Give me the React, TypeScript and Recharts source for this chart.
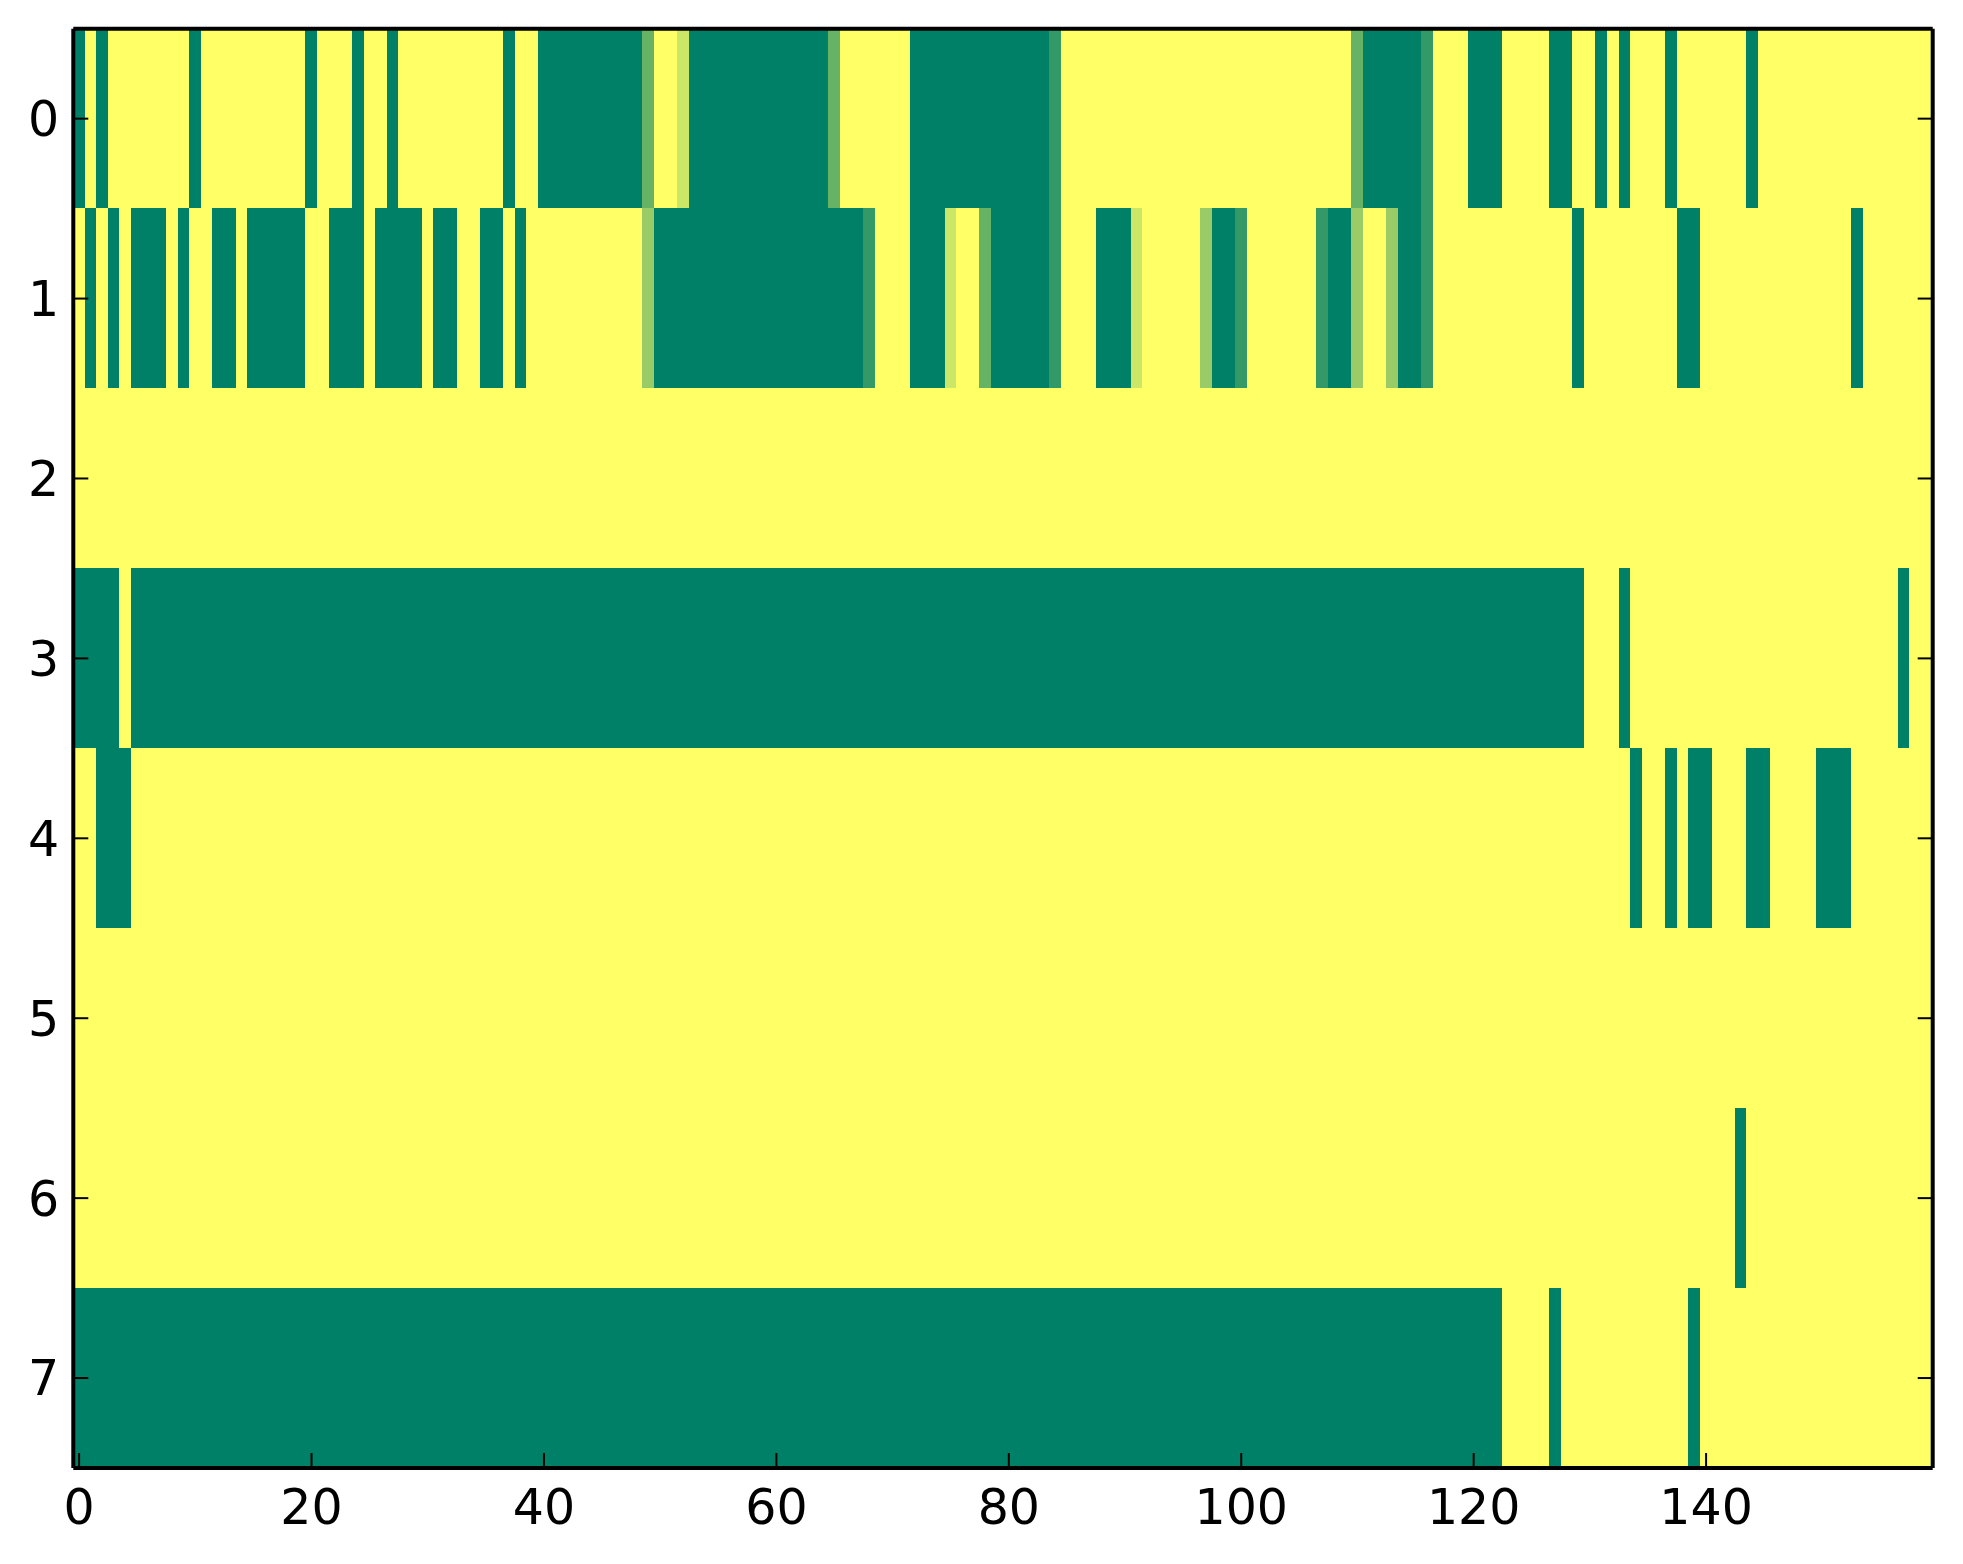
import { ScatterChart, Scatter, XAxis, YAxis } from "recharts";

// one array per image row, one value per column (0 = green, 1 = yellow, summer colormap)
const ROW_0 = [
  0, 1, 0, 1, 1, 1, 1, 1, 1, 1, 0, 1, 1, 1, 1, 1, 1, 1, 1, 1,
  0, 1, 1, 1, 0, 1, 1, 0, 1, 1, 1, 1, 1, 1, 1, 1, 1, 0, 1, 1,
  0, 0, 0, 0, 0, 0, 0, 0, 0, 0.4, 1, 1, 0.8, 0, 0, 0, 0, 0, 0, 0,
  0, 0, 0, 0, 0, 0.4, 1, 1, 1, 1, 1, 1, 0, 0, 0, 0, 0, 0, 0, 0,
  0, 0, 0, 0, 0.2, 1, 1, 1, 1, 1, 1, 1, 1, 1, 1, 1, 1, 1, 1, 1,
  1, 1, 1, 1, 1, 1, 1, 1, 1, 1, 0.4, 0, 0, 0, 0, 0, 0.2, 1, 1, 1,
  0, 0, 0, 1, 1, 1, 1, 0, 0, 1, 1, 0, 1, 0, 1, 1, 1, 0, 1, 1,
  1, 1, 1, 1, 0, 1, 1, 1, 1, 1, 1, 1, 1, 1, 1, 1, 1, 1, 1, 1,
];
const ROW_1 = [
  1, 0, 1, 0, 1, 0, 0, 0, 1, 0, 1, 1, 0, 0, 1, 0, 0, 0, 0, 0,
  1, 1, 0, 0, 0, 1, 0, 0, 0, 0, 1, 0, 0, 1, 1, 0, 0, 1, 0, 1,
  1, 1, 1, 1, 1, 1, 1, 1, 1, 0.6, 0, 0, 0, 0, 0, 0, 0, 0, 0, 0,
  0, 0, 0, 0, 0, 0, 0, 0, 0.2, 1, 1, 1, 0, 0, 0, 0.8, 1, 1, 0.4, 0,
  0, 0, 0, 0, 0.2, 1, 1, 1, 0, 0, 0, 0.8, 1, 1, 1, 1, 1, 0.6, 0, 0,
  0.2, 1, 1, 1, 1, 1, 1, 0.2, 0, 0, 0.6, 1, 1, 0.6, 0, 0, 0.2, 1, 1, 1,
  1, 1, 1, 1, 1, 1, 1, 1, 1, 0, 1, 1, 1, 1, 1, 1, 1, 1, 0, 0,
  1, 1, 1, 1, 1, 1, 1, 1, 1, 1, 1, 1, 1, 0, 1, 1, 1, 1, 1, 1,
];
const ROW_2 = [
  1, 1, 1, 1, 1, 1, 1, 1, 1, 1, 1, 1, 1, 1, 1, 1, 1, 1, 1, 1,
  1, 1, 1, 1, 1, 1, 1, 1, 1, 1, 1, 1, 1, 1, 1, 1, 1, 1, 1, 1,
  1, 1, 1, 1, 1, 1, 1, 1, 1, 1, 1, 1, 1, 1, 1, 1, 1, 1, 1, 1,
  1, 1, 1, 1, 1, 1, 1, 1, 1, 1, 1, 1, 1, 1, 1, 1, 1, 1, 1, 1,
  1, 1, 1, 1, 1, 1, 1, 1, 1, 1, 1, 1, 1, 1, 1, 1, 1, 1, 1, 1,
  1, 1, 1, 1, 1, 1, 1, 1, 1, 1, 1, 1, 1, 1, 1, 1, 1, 1, 1, 1,
  1, 1, 1, 1, 1, 1, 1, 1, 1, 1, 1, 1, 1, 1, 1, 1, 1, 1, 1, 1,
  1, 1, 1, 1, 1, 1, 1, 1, 1, 1, 1, 1, 1, 1, 1, 1, 1, 1, 1, 1,
];
const ROW_3 = [
  0, 0, 0, 0, 1, 0, 0, 0, 0, 0, 0, 0, 0, 0, 0, 0, 0, 0, 0, 0,
  0, 0, 0, 0, 0, 0, 0, 0, 0, 0, 0, 0, 0, 0, 0, 0, 0, 0, 0, 0,
  0, 0, 0, 0, 0, 0, 0, 0, 0, 0, 0, 0, 0, 0, 0, 0, 0, 0, 0, 0,
  0, 0, 0, 0, 0, 0, 0, 0, 0, 0, 0, 0, 0, 0, 0, 0, 0, 0, 0, 0,
  0, 0, 0, 0, 0, 0, 0, 0, 0, 0, 0, 0, 0, 0, 0, 0, 0, 0, 0, 0,
  0, 0, 0, 0, 0, 0, 0, 0, 0, 0, 0, 0, 0, 0, 0, 0, 0, 0, 0, 0,
  0, 0, 0, 0, 0, 0, 0, 0, 0, 0, 1, 1, 1, 0, 1, 1, 1, 1, 1, 1,
  1, 1, 1, 1, 1, 1, 1, 1, 1, 1, 1, 1, 1, 1, 1, 1, 1, 0, 1, 1,
];
const ROW_4 = [
  1, 1, 0, 0, 0, 1, 1, 1, 1, 1, 1, 1, 1, 1, 1, 1, 1, 1, 1, 1,
  1, 1, 1, 1, 1, 1, 1, 1, 1, 1, 1, 1, 1, 1, 1, 1, 1, 1, 1, 1,
  1, 1, 1, 1, 1, 1, 1, 1, 1, 1, 1, 1, 1, 1, 1, 1, 1, 1, 1, 1,
  1, 1, 1, 1, 1, 1, 1, 1, 1, 1, 1, 1, 1, 1, 1, 1, 1, 1, 1, 1,
  1, 1, 1, 1, 1, 1, 1, 1, 1, 1, 1, 1, 1, 1, 1, 1, 1, 1, 1, 1,
  1, 1, 1, 1, 1, 1, 1, 1, 1, 1, 1, 1, 1, 1, 1, 1, 1, 1, 1, 1,
  1, 1, 1, 1, 1, 1, 1, 1, 1, 1, 1, 1, 1, 1, 0, 1, 1, 0, 1, 0,
  0, 1, 1, 1, 0, 0, 1, 1, 1, 1, 0, 0, 0, 1, 1, 1, 1, 1, 1, 1,
];
const ROW_5 = [
  1, 1, 1, 1, 1, 1, 1, 1, 1, 1, 1, 1, 1, 1, 1, 1, 1, 1, 1, 1,
  1, 1, 1, 1, 1, 1, 1, 1, 1, 1, 1, 1, 1, 1, 1, 1, 1, 1, 1, 1,
  1, 1, 1, 1, 1, 1, 1, 1, 1, 1, 1, 1, 1, 1, 1, 1, 1, 1, 1, 1,
  1, 1, 1, 1, 1, 1, 1, 1, 1, 1, 1, 1, 1, 1, 1, 1, 1, 1, 1, 1,
  1, 1, 1, 1, 1, 1, 1, 1, 1, 1, 1, 1, 1, 1, 1, 1, 1, 1, 1, 1,
  1, 1, 1, 1, 1, 1, 1, 1, 1, 1, 1, 1, 1, 1, 1, 1, 1, 1, 1, 1,
  1, 1, 1, 1, 1, 1, 1, 1, 1, 1, 1, 1, 1, 1, 1, 1, 1, 1, 1, 1,
  1, 1, 1, 1, 1, 1, 1, 1, 1, 1, 1, 1, 1, 1, 1, 1, 1, 1, 1, 1,
];
const ROW_6 = [
  1, 1, 1, 1, 1, 1, 1, 1, 1, 1, 1, 1, 1, 1, 1, 1, 1, 1, 1, 1,
  1, 1, 1, 1, 1, 1, 1, 1, 1, 1, 1, 1, 1, 1, 1, 1, 1, 1, 1, 1,
  1, 1, 1, 1, 1, 1, 1, 1, 1, 1, 1, 1, 1, 1, 1, 1, 1, 1, 1, 1,
  1, 1, 1, 1, 1, 1, 1, 1, 1, 1, 1, 1, 1, 1, 1, 1, 1, 1, 1, 1,
  1, 1, 1, 1, 1, 1, 1, 1, 1, 1, 1, 1, 1, 1, 1, 1, 1, 1, 1, 1,
  1, 1, 1, 1, 1, 1, 1, 1, 1, 1, 1, 1, 1, 1, 1, 1, 1, 1, 1, 1,
  1, 1, 1, 1, 1, 1, 1, 1, 1, 1, 1, 1, 1, 1, 1, 1, 1, 1, 1, 1,
  1, 1, 1, 0, 1, 1, 1, 1, 1, 1, 1, 1, 1, 1, 1, 1, 1, 1, 1, 1,
];
const ROW_7 = [
  0, 0, 0, 0, 0, 0, 0, 0, 0, 0, 0, 0, 0, 0, 0, 0, 0, 0, 0, 0,
  0, 0, 0, 0, 0, 0, 0, 0, 0, 0, 0, 0, 0, 0, 0, 0, 0, 0, 0, 0,
  0, 0, 0, 0, 0, 0, 0, 0, 0, 0, 0, 0, 0, 0, 0, 0, 0, 0, 0, 0,
  0, 0, 0, 0, 0, 0, 0, 0, 0, 0, 0, 0, 0, 0, 0, 0, 0, 0, 0, 0,
  0, 0, 0, 0, 0, 0, 0, 0, 0, 0, 0, 0, 0, 0, 0, 0, 0, 0, 0, 0,
  0, 0, 0, 0, 0, 0, 0, 0, 0, 0, 0, 0, 0, 0, 0, 0, 0, 0, 0, 0,
  0, 0, 0, 1, 1, 1, 1, 0, 1, 1, 1, 1, 1, 1, 1, 1, 1, 1, 1, 0,
  1, 1, 1, 1, 1, 1, 1, 1, 1, 1, 1, 1, 1, 1, 1, 1, 1, 1, 1, 1,
];

const ROWS = [ROW_0, ROW_1, ROW_2, ROW_3, ROW_4, ROW_5, ROW_6, ROW_7];
const COL_TICKS = [0, 20, 40, 60, 80, 100, 120, 140];
const ROW_TICKS = [0, 1, 2, 3, 4, 5, 6, 7];

const WIDTH = 1963;
const HEIGHT = 1564;
const LEFT = 73.3;
const RIGHT = 30.3;
const TOP = 28.7;
const BOTTOM = 96;
const N_COLS = ROW_0.length;
const CELL_W = (WIDTH - LEFT - RIGHT) / N_COLS;
const CELL_H = (HEIGHT - TOP - BOTTOM) / ROWS.length;

// matplotlib "summer": (v, 0.5 + v/2, 0.4)
const summer = (v: number) =>
  `rgb(${Math.round(255 * v)},${Math.round(255 * (0.5 + v / 2))},102)`;

const cells = ROWS.flatMap((row, r) => row.map((v, c) => ({ col: c, row: r, v })));

const tickStyle = { fill: "#000", fontSize: 49, fontFamily: "DejaVu Sans" };
const axisLine = { stroke: "#000", strokeWidth: 4 };
const tickLine = { stroke: "#000", strokeWidth: 2 };

function HeatCell(props: any) {
  const { cx, cy, payload } = props;
  if (cx == null || cy == null) return <g />;
  return (
    <rect
      x={cx - CELL_W / 2 - 0.3}
      y={cy - CELL_H / 2 - 0.3}
      width={CELL_W + 0.6}
      height={CELL_H + 0.6}
      fill={summer(payload.v)}
      shapeRendering="crispEdges"
    />
  );
}

export default function App() {
  return (
    <div style={{ position: "absolute", left: 0, top: 0, width: WIDTH, height: HEIGHT, background: "#fff" }}>
      <ScatterChart width={WIDTH} height={HEIGHT} margin={{ top: 0, right: 0, bottom: 0, left: 0 }}>
        <Scatter
          data={cells}
          dataKey="row"
          xAxisId="x"
          yAxisId="y"
          shape={<HeatCell />}
          isAnimationActive={false}
          zIndex={100}
        />
        <XAxis
          xAxisId="x"
          dataKey="col"
          type="number"
          domain={[-0.5, N_COLS - 0.5]}
          ticks={COL_TICKS}
          allowDataOverflow
          height={BOTTOM}
          tickSize={-15}
          tickMargin={36}
          tick={tickStyle}
          axisLine={axisLine}
          tickLine={tickLine}
          zIndex={1000}
        />
        <XAxis
          xAxisId="top"
          orientation="top"
          type="number"
          domain={[-0.5, N_COLS - 0.5]}
          ticks={COL_TICKS}
          allowDataOverflow
          height={TOP}
          tickSize={-15}
          tickFormatter={() => ""}
          axisLine={axisLine}
          tickLine={tickLine}
          zIndex={1000}
        />
        <YAxis
          yAxisId="y"
          dataKey="row"
          type="number"
          domain={[-0.5, ROWS.length - 0.5]}
          ticks={ROW_TICKS}
          reversed
          allowDataOverflow
          width={LEFT}
          tickSize={-15}
          tickMargin={29}
          tick={tickStyle}
          axisLine={axisLine}
          tickLine={tickLine}
          zIndex={1000}
        />
        <YAxis
          yAxisId="right"
          orientation="right"
          type="number"
          domain={[-0.5, ROWS.length - 0.5]}
          ticks={ROW_TICKS}
          reversed
          allowDataOverflow
          width={RIGHT}
          tickSize={-15}
          tickFormatter={() => ""}
          axisLine={axisLine}
          tickLine={tickLine}
          zIndex={1000}
        />
      </ScatterChart>
    </div>
  );
}
